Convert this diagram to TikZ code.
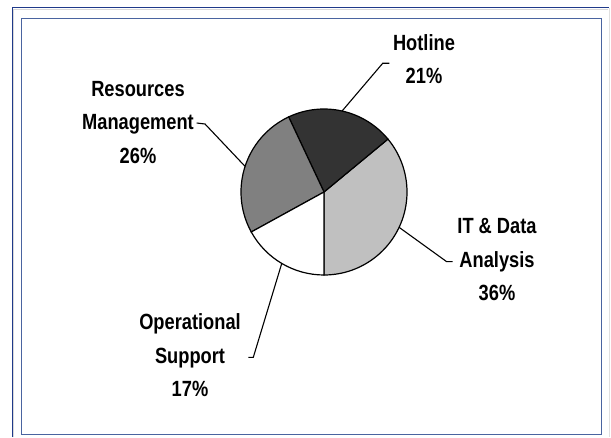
\documentclass[tikz,border=0pt]{standalone}
\usepackage{fontspec}
\setmainfont{Liberation Sans}[FakeStretch=0.83]
\usetikzlibrary{calc}
\definecolor{navy}{HTML}{1F3A8A}
\definecolor{frameblue}{HTML}{4A64A0}
\definecolor{darkslice}{HTML}{333333}
\definecolor{midslice}{HTML}{808080}
\definecolor{lightslice}{HTML}{C0C0C0}
\tikzset{
  lbl/.style={align=center, inner sep=0pt, font=\fontsize{22}{33.5}\selectfont\bfseries},
  slice/.style={draw=black, line width=1.2pt},
  leader/.style={line width=1.1pt}
}

\begin{document}
\begin{tikzpicture}[x=1pt,y=1pt]
\useasboundingbox (0,0) rectangle (611,437);
% frames
\draw[navy, line width=1pt] (12,0) -- (12,429) -- (609,429);
\draw[black!15] (13.5,0) -- (13.5,427.5) -- (608,427.5);
\draw[black!12] (609,0) -- (609,428.5);
\draw[frameblue, line width=1.6pt] (21.5,2.5) rectangle (601.5,418.5);
% pie
\coordinate (c) at (324,245);
\filldraw[slice, fill=lightslice] (c) -- ++(-90:83) arc[start angle=-90, end angle=39.6, radius=83] -- cycle;
\filldraw[slice, fill=darkslice] (c) -- ++(39.6:83) arc[start angle=39.6, end angle=115.2, radius=83] -- cycle;
\filldraw[slice, fill=midslice] (c) -- ++(115.2:83) arc[start angle=115.2, end angle=208.8, radius=83] -- cycle;
\filldraw[slice, fill=white] (c) -- ++(208.8:83) arc[start angle=208.8, end angle=270, radius=83] -- cycle;
\coordinate (hotE) at ($(c)+(77.4:83)$);
\coordinate (resE) at ($(c)+(162:83)$);
\coordinate (itE) at ($(c)+(-25.2:83)$);
\coordinate (opE) at ($(c)+(239.4:83)$);
% labels
\node[lbl] (hot) at (424,378) {Hotline\\21\%};
\node[lbl] (res) at (138,314.5) {Resources\\Management\\26\%};
\node[lbl] (it) at (497,177) {IT \& Data\\Analysis\\36\%};
\node[lbl] (op) at (190,81.5) {Operational\\Support\\17\%};
% leaders
\coordinate (hotA) at (389.3,373.7);
\coordinate (hotB) at (382.7,373.7);
\coordinate (resA) at (196.7,314);
\coordinate (resB) at (205,313);
\coordinate (itA) at (452.7,175.3);
\coordinate (itB) at (446.7,175.3);
\coordinate (opA) at (248.3,79.7);
\coordinate (opB) at (253.3,79.7);
\draw[leader] (hotA) -- (hotB) -- (hotE);
\draw[leader] (resA) -- (resB) -- (resE);
\draw[leader] (itA) -- (itB) -- (itE);
\draw[leader] (opA) -- (opB) -- (opE);
\end{tikzpicture}
\end{document}
